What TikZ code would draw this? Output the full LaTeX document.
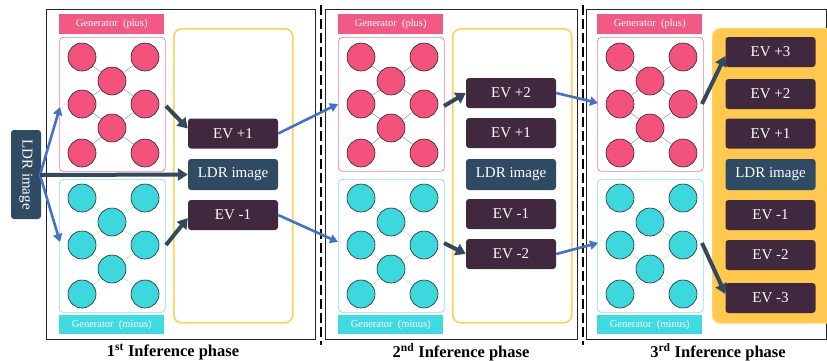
\documentclass[tikz,border=0pt]{standalone}
\usepackage{fontspec}
\setmainfont{Liberation Serif}
\usetikzlibrary{arrows.meta,calc}
\definecolor{pinkc}{HTML}{F2527C}
\definecolor{pinkl}{HTML}{F25A86}
\definecolor{pinkb}{HTML}{F27A9E}
\definecolor{cyanc}{HTML}{3DD8DE}
\definecolor{cyanl}{HTML}{40DAE2}
\definecolor{cyanb}{HTML}{7EE6EA}
\definecolor{cyane}{HTML}{A8E8EC}
\definecolor{evc}{HTML}{40293F}
\definecolor{ldrc}{HTML}{2F4A63}
\definecolor{yelc}{HTML}{FFD05A}
\definecolor{yelf}{HTML}{FFC94F}
\definecolor{bluec}{HTML}{4472C4}
\definecolor{darkc}{HTML}{34495E}
\tikzset{
  pcirc/.style={circle, minimum size=28, inner sep=0, draw=black!85, line width=0.6, fill=pinkc},
  ccirc/.style={circle, minimum size=28, inner sep=0, draw=black!85, line width=0.6, fill=cyanc},
  pedge/.style={draw=gray!80, line width=0.5},
  cedge/.style={draw=cyane, line width=0.5},
  pbox/.style={draw=pinkb, line width=0.7, rounded corners=4, minimum width=106, minimum height=134, anchor=north west, inner sep=0},
  cbox/.style={draw=cyanb, line width=0.7, rounded corners=4, minimum width=106, minimum height=133, anchor=north west, inner sep=0},
  plabel/.style={fill=pinkl, text=white, minimum width=105, minimum height=20, inner sep=0, anchor=north west, font=\fontsize{10.5}{12}\selectfont},
  clabel/.style={fill=cyanl, text=white, minimum width=105, minimum height=19, inner sep=0, anchor=north west, font=\fontsize{10.5}{12}\selectfont},
  evbox/.style={fill=evc, text=white, rounded corners=3, minimum width=90, minimum height=30, inner sep=0, font=\fontsize{15}{17}\selectfont},
  ldrbox/.style={fill=ldrc, text=white, rounded corners=3, minimum width=90, minimum height=31, inner sep=0, font=\fontsize{15}{17}\selectfont},
  yelbox/.style={draw=yelc, line width=1.6, rounded corners=8, minimum width=119, minimum height=294, anchor=north west, inner sep=0},
  frame/.style={draw=black!85, line width=0.8},
  blarrow/.style={draw=bluec, line width=2.6, -{Triangle[length=8,width=9]}},
  dkarrow/.style={draw=darkc, line width=4, -{Triangle[length=10,width=12]}},
  sep/.style={draw=black, line width=2, dash pattern=on 10pt off 4pt},
  title/.style={font=\bfseries\fontsize{16.5}{18}\selectfont}
}
\newcommand\gennet[4]{%
  \node[#4] (#1a) at (#2+23,#3) {};
  \node[#4] (#1b) at (#2+86,#3) {};
  \node[#4] (#1c) at (#2+53,#3+24) {};
  \node[#4] (#1d) at (#2+23,#3+47) {};
  \node[#4] (#1e) at (#2+86,#3+47) {};
  \node[#4] (#1f) at (#2+53,#3+71) {};
  \node[#4] (#1g) at (#2+23,#3+96) {};
  \node[#4] (#1h) at (#2+86,#3+96) {};
}
\newcommand\genedges[2]{%
  \draw[#2] (#1a) -- (#1c); \draw[#2] (#1b) -- (#1c);
  \draw[#2] (#1c) -- (#1d); \draw[#2] (#1c) -- (#1e);
  \draw[#2] (#1d) -- (#1f); \draw[#2] (#1e) -- (#1f);
  \draw[#2] (#1f) -- (#1g); \draw[#2] (#1f) -- (#1h);
}
\begin{document}
\begin{tikzpicture}[x=1pt, y=-1pt]
\useasboundingbox[fill=white] (0,0) rectangle (827,360);
% frames
\draw[frame] (46,9) rectangle (315,339);
\draw[frame] (325,9) rectangle (577,339);
\draw[frame] (586,9) rectangle (826.5,339);
\draw[sep] (321,5) -- (321,345);
\draw[sep] (583,5) -- (583,345);
% yellow boxes
\node[yelbox] (y1) at (173,28) {};
\node[yelbox] (y2) at (452,28) {};
\node[yelbox, fill=yelf, minimum width=125] (y3) at (712,28) {};
% generator boxes and labels
\foreach \n/\L in {1/59, 2/338, 3/597}{
  \node[plabel] (pl\n) at (\L,14) {Generator\ \ (plus)};
  \node[pbox] (pb\n) at (\L,37) {};
  \node[cbox] (cb\n) at (\L,179) {};
  \node[clabel] (cl\n) at (\L,315) {Generator\ \ (minus)};
}
% networks
\gennet{pa}{59}{57}{pcirc}   \genedges{pa}{pedge}
\gennet{ca}{59}{198}{ccirc}  \genedges{ca}{cedge}
\gennet{pb}{338}{57}{pcirc}  \genedges{pb}{pedge}
\gennet{cbn}{338}{198}{ccirc} \genedges{cbn}{cedge}
\gennet{pc}{597}{57}{pcirc}  \genedges{pc}{pedge}
\gennet{cc}{597}{198}{ccirc} \genedges{cc}{cedge}
% LDR input
\node[ldrbox, minimum width=89, minimum height=30, rotate=-90] (ldrin) at (26,174.5) {LDR image};
\coordinate (ldrout) at (40,175);
% phase 1 outputs
\node[evbox] (e1p1) at (233,133.5) {EV +1};
\node[ldrbox] (e1l) at (233,174.5) {LDR image};
\node[evbox] (e1m1) at (233,215) {EV -1};
% phase 2 outputs
\node[evbox] (e2p2) at (511,93) {EV +2};
\node[evbox] (e2p1) at (511,133) {EV +1};
\node[ldrbox] (e2l) at (511,174.5) {LDR image};
\node[evbox] (e2m1) at (511,214) {EV -1};
\node[evbox] (e2m2) at (511,254) {EV -2};
% phase 3 outputs
\node[evbox] (e3p3) at (770.5,52) {EV +3};
\node[evbox] (e3p2) at (770.5,94) {EV +2};
\node[evbox] (e3p1) at (770.5,133.5) {EV +1};
\node[ldrbox] (e3l) at (770.5,174.5) {LDR image};
\node[evbox] (e3m1) at (770.5,215) {EV -1};
\node[evbox] (e3m2) at (770.5,255) {EV -2};
\node[evbox] (e3m3) at (770.5,298) {EV -3};
% entry / exit points on generator boxes
\coordinate (pin1) at (60,107);
\coordinate (cin1) at (60,242);
\coordinate (pout1) at (166,106);
\coordinate (cout1) at (166,245);
\coordinate (pin2) at (338,104);
\coordinate (cin2) at (338,242);
\coordinate (pout2) at (444,106);
\coordinate (cout2) at (444,243);
\coordinate (pin3) at (598,103);
\coordinate (cin3) at (598,243);
\coordinate (pout3) at (702,104);
\coordinate (cout3) at (702,243);
% arrows phase 1
\draw[blarrow] (ldrout) -- (pin1);
\draw[blarrow] (ldrout) -- (cin1);
\draw[dkarrow] (ldrout) -- (e1l.west);
\draw[dkarrow] (pout1) -- ($(e1p1.west)+(0,-5)$);
\draw[dkarrow] (cout1) -- ($(e1m1.west)+(0,3)$);
% phase 1 -> 2
\draw[blarrow] (e1p1.east) -- (pin2);
\draw[blarrow] (e1m1.east) -- (cin2);
\draw[dkarrow] (pout2) -- (e2p2.west);
\draw[dkarrow] (cout2) -- (e2m2.west);
% phase 2 -> 3
\draw[blarrow] (e2p2.east) -- (pin3);
\draw[blarrow] (e2m2.east) -- (cin3);
\draw[dkarrow] (pout3) -- ($(e3p3.west)+(0,4)$);
\draw[dkarrow] (cout3) -- ($(e3m3.west)+(0,-4)$);
% titles
\node[title] (t1) at (173,352) {1\textsuperscript{st} Inference phase};
\node[title] (t2) at (461,352) {2\textsuperscript{nd} Inference phase};
\node[title] (t3) at (718,352) {3\textsuperscript{rd} Inference phase};
\end{tikzpicture}
\end{document}
